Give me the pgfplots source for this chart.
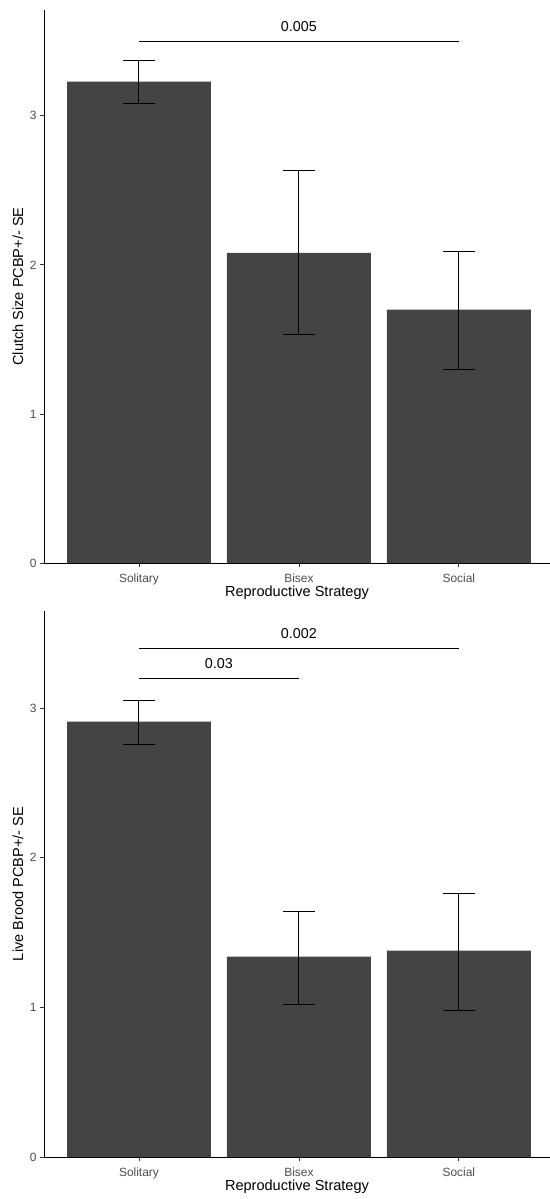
\documentclass[border=0pt]{standalone}
\usepackage{fontspec}
\setmainfont{Liberation Sans}
\usepackage{pgfplots}
\pgfplotsset{compat=1.18}
\definecolor{barfill}{HTML}{444444}
\definecolor{ticktext}{HTML}{4D4D4D}
\definecolor{tickline}{HTML}{333333}

\pgfplotsset{
  ggbar/.style={
    scale only axis, width=506bp,
    xmin=0.406, xmax=3.57, ymin=0,
    axis lines=left, axis line style={-, black, line width=0.8bp},
    xtick={1,2,3}, xticklabels={Solitary,Bisex,Social},
    ytick={0,1,2,3},
    tick align=outside, major tick length=4bp,
    tick style={tickline, line width=0.8bp},
    ticklabel style={font=\fontsize{12}{14}\selectfont, text=ticktext},
    xticklabel style={yshift=-3bp},
    /pgf/number format/assume math mode=true,
    label style={font=\fontsize{14.6}{17}\selectfont},
    xlabel={Reproductive Strategy},
    xlabel style={at={(axis description cs:0.5,0)}, anchor=center, yshift=-30bp},
    ylabel style={at={(axis description cs:-0.0514,0.5)}, anchor=center},
    clip=false,
  },
  ggbars/.style={ybar, bar width=0.9, bar shift=0, fill=barfill, draw=none,
    error bars/.cd, y dir=both, y explicit,
    error bar style={draw=black, line width=1bp},
    error mark options={rotate=90, draw=black, line width=1bp, mark size=16bp}},
  sig/.style={black, line width=0.9bp, mark=none},
}
\tikzset{siglabel/.style={anchor=base, yshift=9.5bp, font=\fontsize{14.4}{17}\selectfont}}

\begin{document}
\begin{tikzpicture}[x=1bp,y=1bp]
\useasboundingbox (0,0) rectangle (550,1199);

% Clutch size
\begin{axis}[ggbar, height=553bp, ymax=3.71,
  ylabel={Clutch Size PCBP+/- SE},
  at={(44bp,636bp)}, anchor=south west]
\addplot[ggbars] table[x=x, y=y, y error plus=ep, y error minus=em] {
x y ep em
1 3.23 0.14 0.15
2 2.08 0.55 0.55
3 1.70 0.39 0.40
};
\addplot[sig] coordinates {(1,3.5) (3,3.5)};
\node[siglabel] at (axis cs:2,3.5) {0.005};
\end{axis}

% Live brood
\begin{axis}[ggbar, height=546bp, ymax=3.65,
  ylabel={Live Brood PCBP+/- SE},
  at={(44bp,42bp)}, anchor=south west]
\addplot[ggbars] table[x=x, y=y, y error plus=ep, y error minus=em] {
x y ep em
1 2.91 0.14 0.15
2 1.34 0.30 0.32
3 1.38 0.38 0.40
};
\addplot[sig] coordinates {(1,3.4) (3,3.4)};
\node[siglabel] at (axis cs:2,3.4) {0.002};
\addplot[sig] coordinates {(1,3.2) (2,3.2)};
\node[siglabel] at (axis cs:1.5,3.2) {0.03};
\end{axis}
\end{tikzpicture}
\end{document}
